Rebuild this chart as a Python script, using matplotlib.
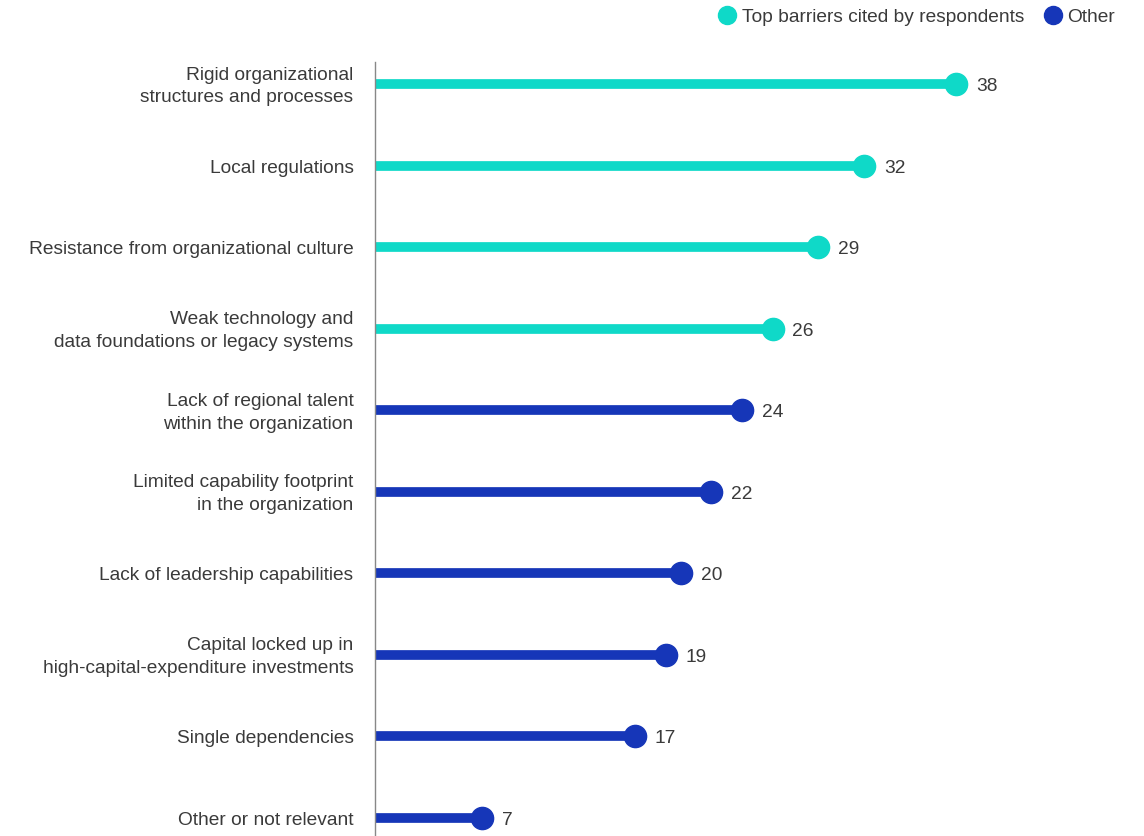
import matplotlib.pyplot as plt
from matplotlib.lines import Line2D

labels = [
    "Rigid organizational\nstructures and processes",
    "Local regulations",
    "Resistance from organizational culture",
    "Weak technology and\ndata foundations or legacy systems",
    "Lack of regional talent\nwithin the organization",
    "Limited capability footprint\nin the organization",
    "Lack of leadership capabilities",
    "Capital locked up in\nhigh-capital-expenditure investments",
    "Single dependencies",
    "Other or not relevant",
]
values = [38, 32, 29, 26, 24, 22, 20, 19, 17, 7]
is_top = [True, True, True, True, False, False, False, False, False, False]

TEAL = "#0fd9c8"
BLUE = "#1636b8"
TXT = "#3a3a3a"

plt.rcParams['font.family'] = ['Liberation Sans', 'DejaVu Sans']

fig = plt.figure(figsize=(11.44, 8.36), dpi=100)
ax = fig.add_axes([375 / 1144, 0, 1 - 375 / 1144, 1 - 62 / 836])

for i, (v, top) in enumerate(zip(values, is_top)):
    c = TEAL if top else BLUE
    ax.plot([0, v], [i, i], color=c, lw=7, solid_capstyle='butt', zorder=2)
    ax.plot([v], [i], 'o', color=c, ms=16, zorder=3)
    ax.text(v + 1.3, i + 0.03, str(v), va='center', ha='left', fontsize=13.8, color=TXT)
    ax.text(-1.4, i + 0.03, labels[i], va='center', ha='right', fontsize=13.8,
            color=TXT, linespacing=1.45)

ax.set_xlim(0, (1144 - 375) / 15.29)
ax.set_ylim(9.22, -0.27)
ax.set_xticks([])
ax.set_yticks([])
for s in ['top', 'right', 'bottom']:
    ax.spines[s].set_visible(False)
ax.spines['left'].set_color('#888888')
ax.spines['left'].set_linewidth(1)

handles = [
    Line2D([], [], marker='o', ls='', color=TEAL, ms=13, label="Top barriers cited by respondents"),
    Line2D([], [], marker='o', ls='', color=BLUE, ms=13, label="Other"),
]
fig.legend(handles=handles, loc='center right', bbox_to_anchor=(0.9745, 1 - 17 / 836), ncol=2,
           frameon=False, fontsize=13.8, handletextpad=0.25, columnspacing=1.0,
           labelcolor=TXT, handlelength=1.0, borderpad=0, borderaxespad=0)

fig.savefig("out.png", dpi=100)
